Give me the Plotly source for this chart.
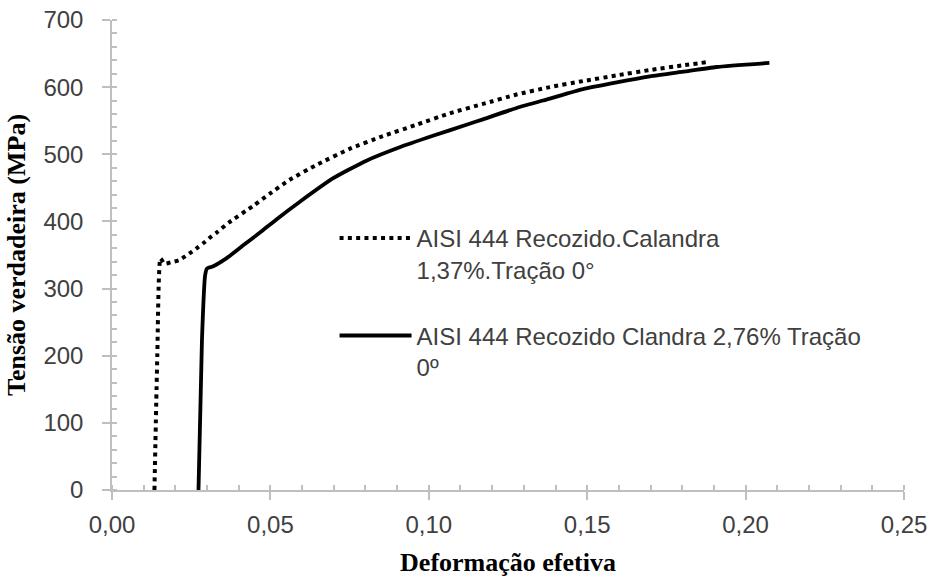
import plotly.graph_objects as go

# True stress-strain curves, AISI 444 annealed + calendered, tensile at 0 deg
strain_137 = [0.0134, 0.0143, 0.0153, 0.0165, 0.0185, 0.0211, 0.0231, 0.0253, 0.0273,
              0.0292, 0.0312, 0.0332, 0.0368, 0.0445, 0.0497, 0.0561, 0.0645, 0.0750,
              0.0855, 0.0961, 0.1066, 0.1171, 0.1277, 0.1382, 0.1487, 0.1593, 0.1698,
              0.1803, 0.1875]
stress_137 = [0, 200, 345, 337, 339, 342, 348, 355, 362,
              369, 377, 384, 398, 423, 441, 462, 484, 508,
              527, 544, 561, 575, 589, 600, 609, 617.5, 625.5,
              632.5, 637]

strain_276 = [0.0273, 0.0284, 0.0294, 0.0300, 0.0318, 0.0361, 0.0413, 0.0466, 0.0519,
              0.0592, 0.0697, 0.0803, 0.0908, 0.1013, 0.1119, 0.1171, 0.1277, 0.1382,
              0.1487, 0.1593, 0.1698, 0.1803, 0.1908, 0.2075]
stress_276 = [0, 224, 320, 330, 333, 345, 364, 383, 403,
              429, 464, 490.5, 510.5, 527.5, 544, 552, 569, 583,
              597, 607, 616, 623, 630, 636]

name_137 = "AISI 444 Recozido.Calandra<br>1,37%.Tração 0°"
name_276 = "AISI 444 Recozido Clandra 2,76% Tração<br>0º"

axis_grey = "#bfbfbf"
text_grey = "#404040"

fig = go.Figure()
fig.add_trace(go.Scatter(
    x=strain_137, y=stress_137, mode="lines", name=name_137, legendgroup="a",
    line=dict(color="black", width=4, dash="4px,4.3px", shape="spline", smoothing=0.5),
))
fig.add_trace(go.Scatter(
    x=strain_276, y=stress_276, mode="lines", name=name_276, legendgroup="b",
    line=dict(color="black", width=3.8, shape="spline", smoothing=0.5),
))
# empty trace carrying the overlay axes that give the inner half of the cross ticks
fig.add_trace(go.Scatter(x=[], y=[], xaxis="x2", yaxis="y2", showlegend=False))

tick_font = dict(family="Liberation Sans, Arial", size=24, color=text_grey)
title_font = dict(family="Liberation Serif, Times New Roman", size=26, color="black")

fig.update_layout(
    width=935, height=577,
    margin=dict(l=112, r=31, t=20, b=87),
    paper_bgcolor="white", plot_bgcolor="white",
    showlegend=True,
    legend=dict(
        x=0.281, y=0.583, xanchor="left", yanchor="top",
        font=dict(family="Liberation Sans, Arial", size=24, color=text_grey),
        itemwidth=72, tracegroupgap=32, valign="top",
        bgcolor="rgba(0,0,0,0)",
    ),
    xaxis=dict(
        range=[0, 0.25], dtick=0.05, tickformat=".2f", automargin=False,
        showgrid=False, zeroline=False,
        showline=True, linecolor=axis_grey, linewidth=1.5,
        ticks="outside", ticklen=8, tickwidth=1.5, tickcolor=axis_grey,
        minor=dict(dtick=0.01, ticks="inside", ticklen=5, tickwidth=1.5, tickcolor=axis_grey),
        tickfont=tick_font, ticklabelstandoff=4,
        title=dict(text="<b>Deformação efetiva</b>", font=title_font, standoff=16),
    ),
    yaxis=dict(
        range=[0, 700], dtick=100, automargin=False,
        showgrid=False, zeroline=False,
        showline=True, linecolor=axis_grey, linewidth=1.5,
        ticks="outside", ticklen=8, tickwidth=1.5, tickcolor=axis_grey,
        minor=dict(dtick=20, ticks="inside", ticklen=5, tickwidth=1.5, tickcolor=axis_grey),
        tickfont=tick_font, ticklabelstandoff=14,
        title=dict(text="<b>Tensão verdadeira (MPa)</b>", font=title_font, standoff=10),
    ),
    xaxis2=dict(
        range=[0, 0.25], dtick=0.05, overlaying="x", anchor="y2", automargin=False,
        showgrid=False, zeroline=False, showticklabels=False,
        ticks="inside", ticklen=5, tickwidth=1.5, tickcolor=axis_grey,
    ),
    yaxis2=dict(
        range=[0, 700], dtick=100, overlaying="y", anchor="x2", automargin=False,
        showgrid=False, zeroline=False, showticklabels=False,
        ticks="inside", ticklen=5, tickwidth=1.5, tickcolor=axis_grey,
    ),
    separators=",.",
)

fig.write_html("out.html")
